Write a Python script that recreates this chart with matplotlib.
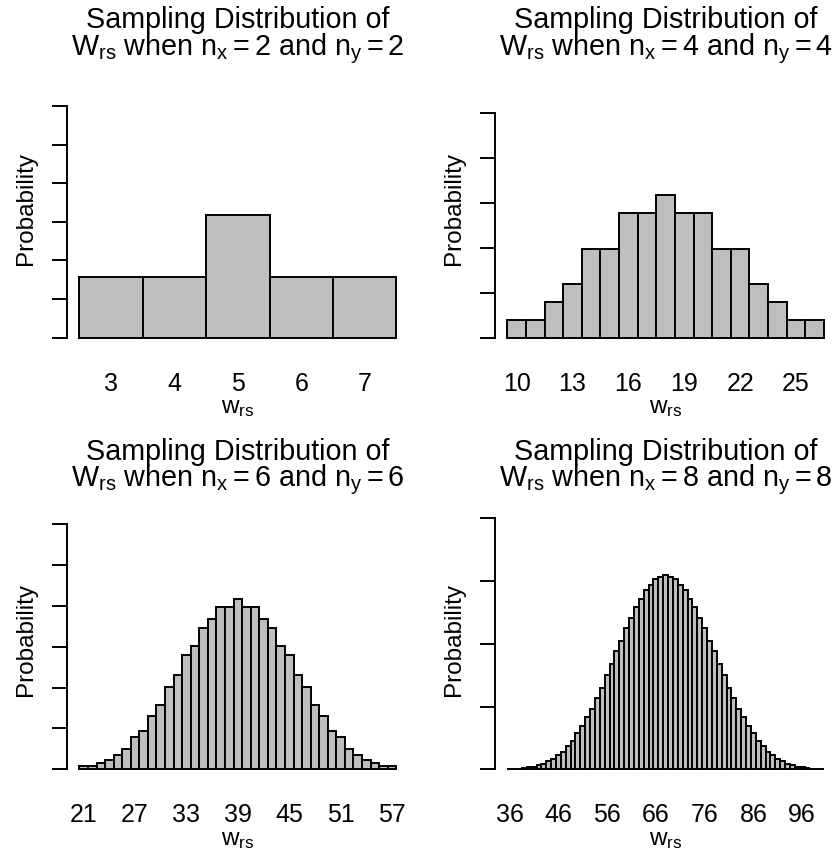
import numpy as np
import matplotlib
matplotlib.use("Agg")
import matplotlib.pyplot as plt

plt.rcParams['font.family'] = 'Liberation Sans'
plt.rcParams['mathtext.fontset'] = 'custom'
plt.rcParams['mathtext.rm'] = 'Liberation Sans'
plt.rcParams['mathtext.it'] = 'Liberation Sans:italic'

# number of arrangements giving each rank sum, for n_x = n_y = n
sample_sizes = [2, 4, 6, 8]
w_start = [3, 10, 21, 36]
totals = [6, 70, 924, 12870]
counts_2 = [1, 1, 2, 1, 1]
counts_4 = [1, 1, 2, 3, 5, 5, 7, 7, 8, 7, 7, 5, 5, 3, 2, 1, 1]
counts_6 = [1, 1, 2, 3, 5, 7, 11, 13, 18, 22, 28, 32, 39, 42, 48, 51, 55, 55, 58,
            55, 55, 51, 48, 42, 39, 32, 28, 22, 18, 13, 11, 7, 5, 3, 2, 1, 1]
counts_8 = [1, 1, 2, 3, 5, 7, 11, 15, 22, 28, 38, 48, 63, 77, 97, 116, 141, 164,
            194, 221, 255, 284, 319, 348, 383, 409, 440, 461, 486, 499, 515, 519,
            526, 519, 515, 499, 486, 461, 440, 409, 383, 348, 319, 284, 255, 221,
            194, 164, 141, 116, 97, 77, 63, 48, 38, 28, 22, 15, 11, 7, 5, 3, 2, 1, 1]
all_counts = [counts_2, counts_4, counts_6, counts_8]
xtick_labels = [[3, 4, 5, 6, 7],
                [10, 13, 16, 19, 22, 25],
                [21, 27, 33, 39, 45, 51, 57],
                [36, 46, 56, 66, 76, 86, 96]]
ytick_step = [0.1053, 0.036, 0.01504, 0.01318]
ytick_n = [6, 5, 6, 4]

W, H = 835, 852
fig = plt.figure(figsize=(W / 100, H / 100), dpi=100)

# plot regions in pixels: left, right, top of axis, zero line
regions = [(66.7, 409, 106, 337.7), (494.6, 836.7, 113, 337.7),
           (66.7, 409, 524, 769.3), (494.6, 836.7, 518.3, 769.3)]

def fx(px):
    return px / W

def fy(py):
    return 1 - py / H

for i, n in enumerate(sample_sizes):
    left, right, top, zero = regions[i]
    ax = fig.add_axes([fx(left), fy(zero), (right - left) / W, (zero - top) / H])
    counts = np.array(all_counts[i])
    w = np.arange(w_start[i], w_start[i] + len(counts))
    prob = counts / totals[i]
    ax.bar(w, prob, width=1, color='#bebebe', edgecolor='black',
           linewidth=1.4, clip_on=False)
    nb = len(counts)
    ax.set_xlim(w[0] - 0.5 - 0.04 * nb, w[-1] + 0.5 + 0.04 * nb)
    ymax = ytick_step[i] * ytick_n[i]
    ax.set_ylim(0, ymax)
    ax.set_yticks(ytick_step[i] * np.arange(ytick_n[i] + 1))
    ax.set_yticklabels([])
    for s in ['top', 'right', 'bottom']:
        ax.spines[s].set_visible(False)
    ax.spines['left'].set_linewidth(1.4)
    ax.tick_params(axis='y', direction='out', length=10.8, width=1.4)
    ax.set_xticks(xtick_labels[i])
    ax.set_xticklabels([str(v) for v in xtick_labels[i]])
    ax.tick_params(axis='x', length=0, pad=24.6, labelsize=18)
    ax.patch.set_alpha(0)

    cx = (left + right) / 2
    row_off = zero - 337.7
    fig.text(fx(cx), fy(28.5 + row_off), 'Sampling Distribution of',
             ha='center', va='baseline', fontsize=20.7)
    fig.text(fx(cx), fy(55 + row_off),
             r'$\mathregular{W_{rs}}$ when $\mathregular{n_x = %d}$ and $\mathregular{n_y = %d}$' % (n, n),
             ha='center', va='baseline', fontsize=20.7)
    fig.text(fx(cx), fy(zero + 75.6), r'$\mathregular{w_{rs}}$',
             ha='center', va='baseline', fontsize=17.5)
    fig.text(fx(left - 41), fy(zero - 129.4), 'Probability', rotation=90,
             ha='center', va='center', fontsize=17.5)

fig.savefig('out.png', dpi=100)
